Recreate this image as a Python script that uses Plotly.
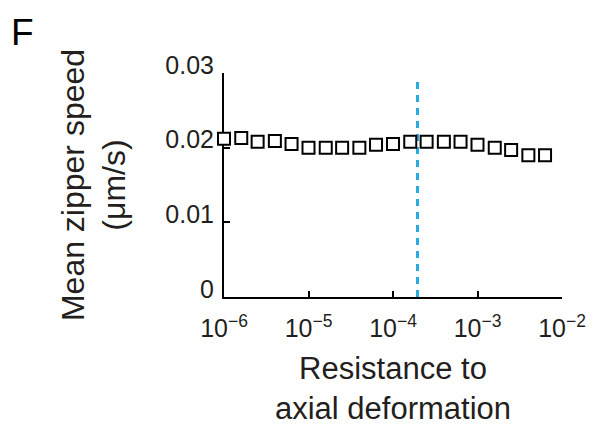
import plotly.graph_objects as go

# Data
resistance = [1.0e-6, 1.6e-6, 2.5e-6, 4.0e-6, 6.3e-6,
              1.0e-5, 1.6e-5, 2.5e-5, 4.0e-5, 6.3e-5,
              1.0e-4, 1.6e-4, 2.5e-4, 4.0e-4, 6.3e-4,
              1.0e-3, 1.6e-3, 2.5e-3, 4.0e-3, 6.3e-3]
speed = [0.0212, 0.0213, 0.0208, 0.0209, 0.0205,
         0.0200, 0.0200, 0.0200, 0.0200, 0.0204,
         0.0205, 0.0208, 0.0208, 0.0208, 0.0208,
         0.0204, 0.0200, 0.0197, 0.0190, 0.0190]
reference_x = 1.95e-4
reference_y = [0.0, 0.0295]

x_tickvals = [1e-6, 1e-5, 1e-4, 1e-3, 1e-2]
x_ticktext = ["10<sup>−6</sup>", "10<sup>−5</sup>", "10<sup>−4</sup>",
              "10<sup>−3</sup>", "10<sup>−2</sup>"]
y_tickvals = [0, 0.01, 0.02, 0.03]
y_ticktext = ["0", "0.01", "0.02", "0.03"]

TXT = "#231f20"
FONT = "Liberation Sans, Arial, Helvetica, sans-serif"

fig = go.Figure()
fig.add_trace(go.Scatter(
    x=[reference_x, reference_x], y=reference_y, mode="lines",
    line=dict(color="#29abe2", width=3, dash="7px,6px"),
    hoverinfo="skip", showlegend=False, cliponaxis=False))
fig.add_trace(go.Scatter(
    x=resistance, y=speed, mode="markers",
    marker=dict(symbol="square", size=12, color="white",
                line=dict(color="black", width=2)),
    showlegend=False, cliponaxis=False))

fig.update_layout(
    width=595, height=426,
    margin=dict(l=224, r=33, t=73, b=129),
    paper_bgcolor="white", plot_bgcolor="white",
    font=dict(family=FONT, color=TXT, size=25),
    xaxis=dict(type="log", range=[-6, -2], tickvals=x_tickvals, ticktext=x_ticktext,
               ticks="inside", ticklen=6, tickwidth=2, tickcolor="black",
               showline=True, linecolor="black", linewidth=2, showgrid=False,
               zeroline=False, layer="below traces", automargin=False,
               tickfont=dict(size=25, family=FONT, color=TXT),
               ticklabelstandoff=8,
               title=dict(text="Resistance to<br>axial deformation",
                          font=dict(size=31, family=FONT, color=TXT), standoff=22)),
    yaxis=dict(range=[0, 0.03], tickvals=y_tickvals, ticktext=y_ticktext,
               ticks="inside", ticklen=6, tickwidth=2, tickcolor="black",
               showline=True, linecolor="black", linewidth=2, showgrid=False,
               zeroline=False, layer="below traces", automargin=False,
               tickfont=dict(size=25, family=FONT, color=TXT),
               ticklabelstandoff=3, ticklabelshift=-8,
               title=dict(text="Mean zipper speed<br>(μm/s)",
                          font=dict(size=32, family=FONT, color=TXT), standoff=30)),
)
fig.add_annotation(text="F", xref="paper", yref="paper",
                   x=(9 - 224) / 338, y=(297 - 32) / 224, xanchor="left", yanchor="middle",
                   showarrow=False, font=dict(size=37, family=FONT, color="black"))

fig.write_html("out.html")
